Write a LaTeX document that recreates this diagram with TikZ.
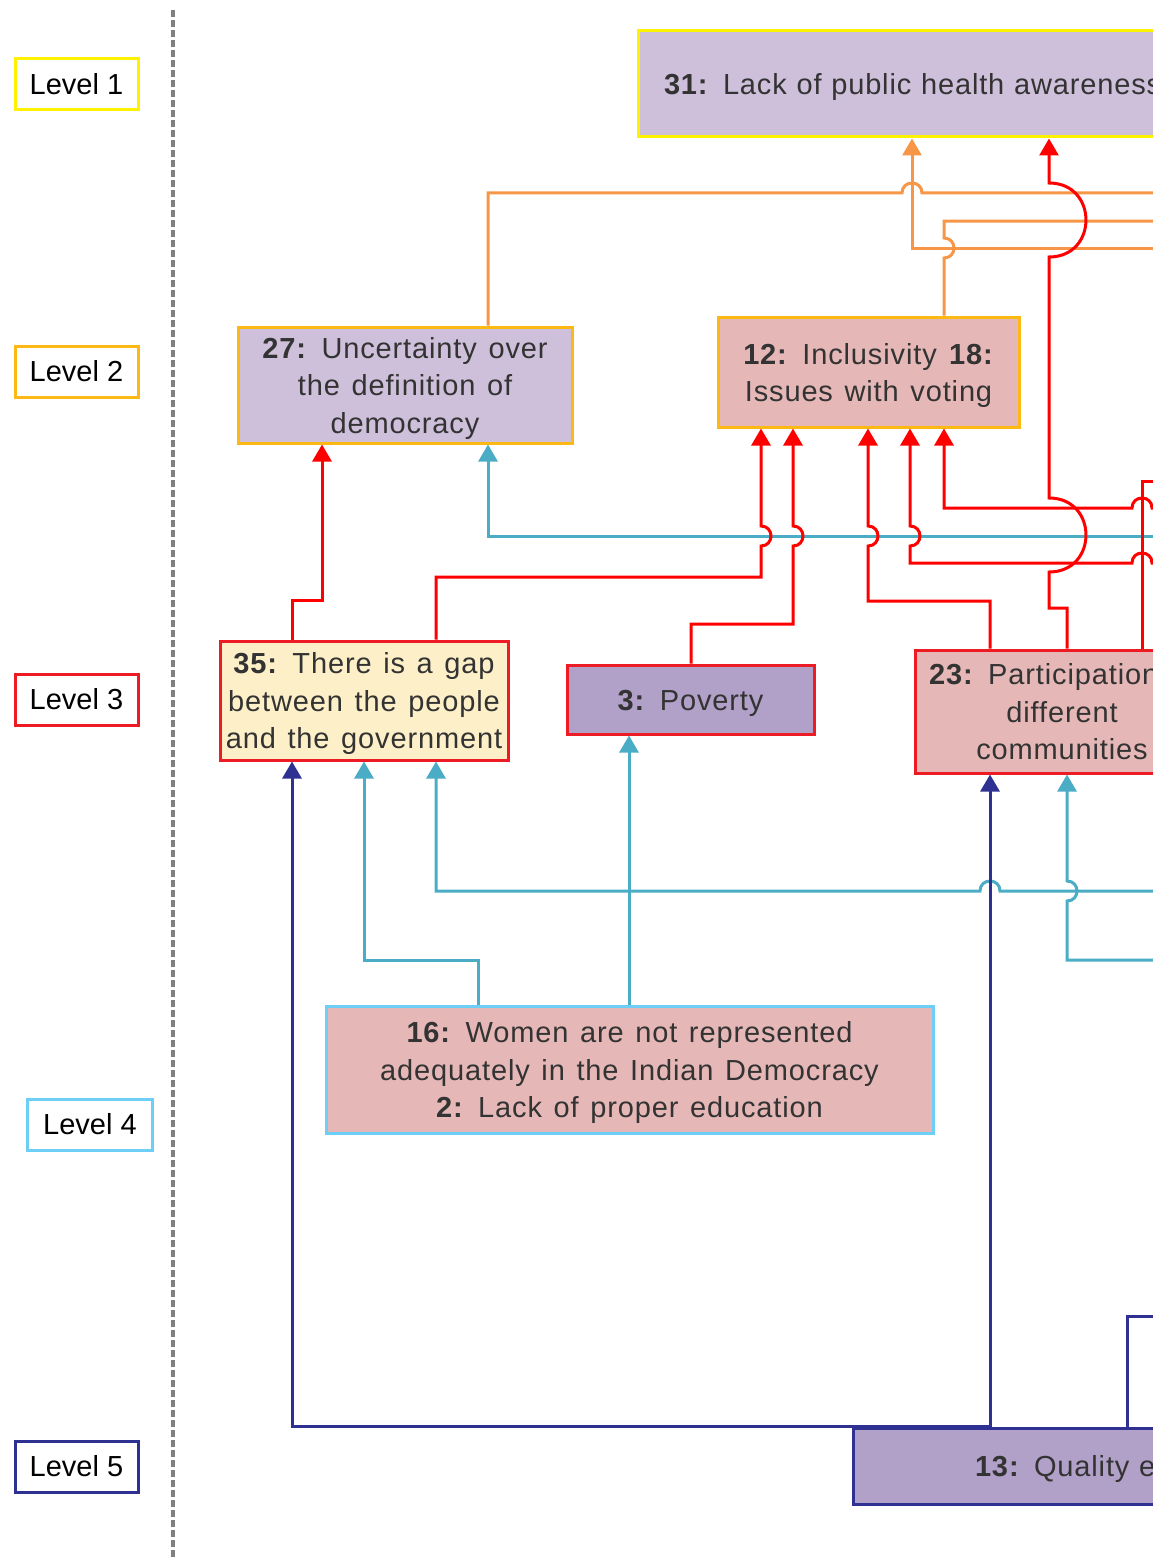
\documentclass[tikz,border=0pt]{standalone}
\usepackage{fontspec}
\setmainfont{Liberation Sans}[LetterSpace=3,WordSpace=1.3]
\newfontfamily\lvlfont{Liberation Sans}
\usetikzlibrary{arrows.meta}
\definecolor{lvlA}{HTML}{FFF200}
\definecolor{lvlB}{HTML}{FDB913}
\definecolor{lvlC}{HTML}{ED1C24}
\definecolor{lvlD}{HTML}{6DCFF6}
\definecolor{lvlE}{HTML}{2E3192}
\definecolor{fillLav}{HTML}{CEC0DA}
\definecolor{fillMed}{HTML}{B1A0C7}
\definecolor{fillPink}{HTML}{E5B8B7}
\definecolor{fillCream}{HTML}{FDF0C8}
\definecolor{txtGray}{HTML}{333333}
\definecolor{conOr}{HTML}{F79646}
\definecolor{conRed}{HTML}{FF0000}
\definecolor{conCy}{HTML}{4BACC6}
\definecolor{conNv}{HTML}{2E3192}
\definecolor{dashGray}{HTML}{808080}
\newcommand\tstrut{\rule{0pt}{28.5pt}}
\newcommand\bstrut{\rule[-7pt]{0pt}{0pt}}
\begin{document}
\begin{tikzpicture}[x=1pt,y=-1pt,
  box/.style={draw, line width=3pt, inner sep=0pt, align=center, text=txtGray,
    font=\fontsize{29}{37.5}\selectfont},
  lvl/.style={draw, line width=3pt, fill=white, inner sep=0pt, minimum width=123pt,
    minimum height=51pt, font=\lvlfont\fontsize{29}{34}\selectfont, text=black},
  con/.style={line width=3pt},
  arr/.style={-{Triangle[width=19pt,length=17pt]}},
  oc/.style={con, draw=conOr, color=conOr},
  rc/.style={con, draw=conRed, color=conRed},
  cc/.style={con, draw=conCy, color=conCy},
  nc/.style={con, draw=conNv, color=conNv}]
\useasboundingbox (0,0) rectangle (1153,1557);
\clip (0,0) rectangle (1153,1557);

% dashed separator
\draw[dashGray, line width=4pt, dash pattern=on 7pt off 3pt] (173,10) -- (173,1557);

% level labels
\node[lvl, draw=lvlA] (L1) at (76.5,84.5) {Level 1};
\node[lvl, draw=lvlB] (L2) at (76.5,371.5) {Level 2};
\node[lvl, draw=lvlC] (L3) at (76.5,699.5) {Level 3};
\node[lvl, draw=lvlD, minimum width=125pt] (L4) at (90,1124.5) {Level 4};
\node[lvl, draw=lvlE] (L5) at (76.5,1466.5) {Level 5};

% factor boxes
\node[box, draw=lvlA, fill=fillLav, minimum width=760pt, minimum height=106pt,
  text width=708pt, align=left] (n31) at (1018,84) {\tstrut\textbf{31:} Lack of public health awareness\bstrut};
\node[box, draw=lvlB, fill=fillLav, minimum width=334pt, minimum height=116pt] (n27) at (405,385)
  {\tstrut\textbf{27:} Uncertainty over\\the definition of\\democracy\bstrut};
\node[box, draw=lvlB, fill=fillPink, minimum width=301pt, minimum height=110pt] (n12) at (868.5,372)
  {\tstrut\textbf{12:} Inclusivity \textbf{18:}\\Issues with voting\bstrut};
\node[box, draw=lvlC, fill=fillCream, minimum width=288pt, minimum height=119pt] (n35) at (364,700.5)
  {\tstrut\textbf{35:} There is a gap\\between the people\\and the government\bstrut};
\node[box, draw=lvlC, fill=fillMed, minimum width=247pt, minimum height=69pt] (n3) at (690.5,699.5)
  {\tstrut\textbf{3:} Poverty\bstrut};
\node[box, draw=lvlC, fill=fillPink, minimum width=294pt, minimum height=123pt] (n23) at (1062,711.5)
  {\tstrut\textbf{23:} Participation\phantom{ of}\\different\\communities\bstrut};
\node[box, draw=lvlD, fill=fillPink, minimum width=607pt, minimum height=127pt] (n16) at (629.5,1069.5)
  {\tstrut\textbf{16:} Women are not represented\\adequately in the Indian Democracy\\\textbf{2:} Lack of proper education\bstrut};
\node[box, draw=lvlE, fill=fillMed, minimum width=744pt, minimum height=76pt,
  text width=500pt, align=left] (n13) at (1225,1466) {\tstrut\textbf{13:} Quality education\bstrut};

% free ends beyond the right edge
\coordinate (eO1) at (1200,193);
\coordinate (eO2) at (1200,248);
\coordinate (eO3) at (1200,221);
\coordinate (eR5) at (1200,563);
\coordinate (eR6) at (1200,508);
\coordinate (eR7) at (1200,481);
\coordinate (eC1) at (1200,536);
\coordinate (eC4) at (1200,891);
\coordinate (eC5) at (1200,960);
\coordinate (eN3) at (1200,1316);

% cyan connectors (level 4)
\draw[cc, arr] (eC1) -- (488,536) -- (n27.south -| 488,0);
\draw[cc, arr] (n16.north -| 478,0) -- (478,960) -- (364,960) -- (n35.south -| 364,0);
\draw[cc, arr] (n16.north -| 629,0) -- (n3.south -| 629,0);
\draw[cc, arr] (eC4) -- (1000,891) .. controls (1000,877.7) and (980,877.7) .. (980,891)
  -- (436,891) -- (n35.south -| 436,0);
\draw[cc, arr] (eC5) -- (1067,960) -- (1067,901) .. controls (1080.3,901) and (1080.3,881) .. (1067,881)
  -- (n23.south -| 1067,0);

% navy connectors (level 5)
\draw[nc, arr] (n13.north -| 990,0) -- (n13.north -| 292,0) -- (n35.south -| 292,0);
\draw[nc, arr] (n13.north -| 990,0) -- (n23.south -| 990,0);
\draw[nc] (n13.north -| 1127,0) -- (1127,1316) -- (eN3);

% orange connectors (level 2)
\draw[oc] (n27.north -| 488,0) -- (488,193) -- (902,193) .. controls (902,179.7) and (922,179.7) .. (922,193) -- (eO1);
\draw[oc, arr] (eO2) -- (912,248) -- (n31.south -| 912,0);
\draw[oc] (n12.north -| 944,0) -- (944,258) .. controls (957.3,258) and (957.3,238) .. (944,238) -- (944,221) -- (eO3);

% red connectors (level 3)
\draw[rc, arr] (n35.north -| 292,0) -- (292,600) -- (322,600) -- (n27.south -| 322,0);
\draw[rc, arr] (n35.north -| 436,0) -- (436,577) -- (761,577) -- (761,546)
  .. controls (774.3,546) and (774.3,526) .. (761,526) -- (n12.south -| 761,0);
\draw[rc, arr] (n3.north -| 691,0) -- (691,624) -- (793,624) -- (793,546)
  .. controls (806.3,546) and (806.3,526) .. (793,526) -- (n12.south -| 793,0);
\draw[rc, arr] (n23.north -| 990,0) -- (990,601) -- (868,601) -- (868,546)
  .. controls (881.3,546) and (881.3,526) .. (868,526) -- (n12.south -| 868,0);
\draw[rc, arr] (eR5) -- (1152,563) .. controls (1152,549.7) and (1132,549.7) .. (1132,563)
  -- (910,563) -- (910,546) .. controls (923.3,546) and (923.3,526) .. (910,526) -- (n12.south -| 910,0);
\draw[rc, arr] (eR6) -- (1152,508) .. controls (1152,494.7) and (1132,494.7) .. (1132,508)
  -- (944,508) -- (n12.south -| 944,0);
\draw[rc] (n23.north -| 1142,0) -- (1142,481) -- (eR7);
\draw[rc, arr] (n23.north -| 1067,0) -- (1067,608) -- (1049,608) -- (1049,572)
  .. controls (1098.3,572) and (1098.3,498) .. (1049,498) -- (1049,257)
  .. controls (1098.3,257) and (1098.3,183) .. (1049,183) -- (n31.south -| 1049,0);
\end{tikzpicture}
\end{document}
